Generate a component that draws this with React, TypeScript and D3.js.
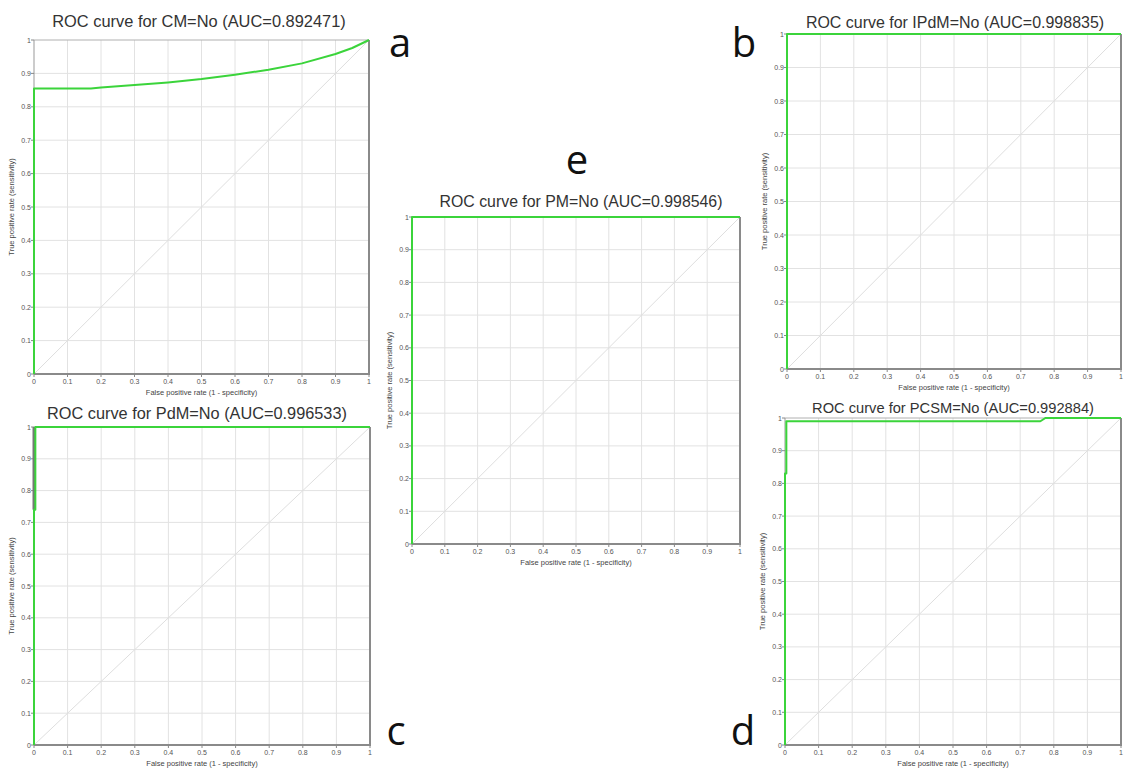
import * as d3 from "d3";
import React, { useEffect, useRef } from "react";

// ROC curve points [fpr, tpr]
const curveCM: [number, number][] = [
  [0, 0], [0, 0.855], [0.17, 0.855], [0.2, 0.858], [0.3, 0.865], [0.4, 0.873],
  [0.5, 0.883], [0.6, 0.896], [0.7, 0.911], [0.8, 0.93], [0.9, 0.958], [0.95, 0.976], [1, 1],
];
const curveIPdM: [number, number][] = [[0, 0], [0, 1], [1, 1]];
const curvePdM: [number, number][] = [[0, 0], [0, 0.74], [0.004, 0.74], [0.004, 1], [1, 1]];
const shadePdM: [number, number][] = [[0, 0.74], [0, 1]];
const curvePCSM: [number, number][] = [
  [0, 0], [0, 0.83], [0.004, 0.83], [0.004, 0.99], [0.76, 0.99], [0.775, 1], [1, 1],
];
const curvePM: [number, number][] = [[0, 0], [0, 1], [1, 1]];

const titles = [
  "ROC curve for CM=No (AUC=0.892471)",
  "ROC curve for IPdM=No (AUC=0.998835)",
  "ROC curve for PdM=No (AUC=0.996533)",
  "ROC curve for PCSM=No (AUC=0.992884)",
  "ROC curve for PM=No (AUC=0.998546)",
];
const letters = ["a", "b", "c", "d", "e"];
const tickValues = [0, 0.1, 0.2, 0.3, 0.4, 0.5, 0.6, 0.7, 0.8, 0.9, 1];
const xLabel = "False positive rate (1 - specificity)";
const yLabel = "True positive rate (sensitivity)";

// plot boxes: left, top, right, bottom; title centre x, baseline y, width; letter position
const panels = [
  { box: [34, 40, 369, 374], title: [199, 27, 302], curve: curveCM, letter: [400, 57] },
  { box: [787, 34, 1121, 369], title: [955, 28, 294], curve: curveIPdM, letter: [744, 57] },
  { box: [34, 427, 370, 745], title: [197, 419, 300], curve: curvePdM, letter: [396, 745], shade: shadePdM },
  { box: [785, 418, 1121, 745], title: [953, 413, 270], curve: curvePCSM, letter: [743, 745] },
  { box: [412, 217, 740, 544], title: [581, 207, 292], curve: curvePM, letter: [577, 174] },
];

const fmt = (d: number) => (d === 0 || d === 1 ? String(d) : d.toFixed(1));

export default function App() {
  const svgRef = useRef<SVGSVGElement>(null);
  const width = 1129;
  const height = 770;

  useEffect(() => {
    const svg = d3.select(svgRef.current);
    svg.selectAll("*").remove();

    svg.append("rect").attr("width", width).attr("height", height).attr("fill", "white");

    panels.forEach((p, i) => {
      const [l, t, r, b] = p.box;
      const x = d3.scaleLinear().domain([0, 1]).range([l, r]);
      const y = d3.scaleLinear().domain([0, 1]).range([b, t]);
      const g = svg.append("g");

      // grid
      g.selectAll(".gx")
        .data(tickValues.slice(1, -1))
        .enter()
        .append("line")
        .attr("x1", (d) => x(d)).attr("x2", (d) => x(d))
        .attr("y1", t).attr("y2", b)
        .attr("stroke", "#e2e2e2").attr("stroke-width", 1);
      g.selectAll(".gy")
        .data(tickValues.slice(1, -1))
        .enter()
        .append("line")
        .attr("y1", (d) => y(d)).attr("y2", (d) => y(d))
        .attr("x1", l).attr("x2", r)
        .attr("stroke", "#e2e2e2").attr("stroke-width", 1);

      // diagonal
      g.append("line")
        .attr("x1", x(0)).attr("y1", y(0)).attr("x2", x(1)).attr("y2", y(1))
        .attr("stroke", "#dedede").attr("stroke-width", 1);

      // frame
      g.append("line").attr("x1", l).attr("x2", r).attr("y1", t).attr("y2", t)
        .attr("stroke", "#b0b0b0").attr("stroke-width", 1);
      g.append("line").attr("x1", l).attr("x2", l).attr("y1", t).attr("y2", b)
        .attr("stroke", "#999").attr("stroke-width", 1);
      g.append("line").attr("x1", r).attr("x2", r).attr("y1", t).attr("y2", b + 1)
        .attr("stroke", "#8a8a8a").attr("stroke-width", 2);
      g.append("line").attr("x1", l).attr("x2", r + 1).attr("y1", b).attr("y2", b)
        .attr("stroke", "#8a8a8a").attr("stroke-width", 2);

      // ticks and labels
      const xAxis = g.append("g").attr("transform", `translate(0,${b})`);
      xAxis.selectAll("line").data(tickValues).enter().append("line")
        .attr("x1", (d) => x(d)).attr("x2", (d) => x(d)).attr("y1", 0).attr("y2", 3)
        .attr("stroke", "#888");
      xAxis.selectAll("text").data(tickValues).enter().append("text")
        .attr("x", (d) => x(d)).attr("y", 10)
        .attr("text-anchor", "middle")
        .attr("font-size", 7).attr("fill", "#555")
        .attr("font-family", "Liberation Sans, Arial, sans-serif")
        .text(fmt);

      const yAxis = g.append("g").attr("transform", `translate(${l},0)`);
      yAxis.selectAll("line").data(tickValues).enter().append("line")
        .attr("y1", (d) => y(d)).attr("y2", (d) => y(d)).attr("x1", -3).attr("x2", 0)
        .attr("stroke", "#888");
      yAxis.selectAll("text").data(tickValues).enter().append("text")
        .attr("x", -3).attr("y", (d) => y(d) + 2.5)
        .attr("text-anchor", "end")
        .attr("font-size", 7).attr("fill", "#555")
        .attr("font-family", "Liberation Sans, Arial, sans-serif")
        .text(fmt);

      g.append("text")
        .attr("x", (l + r) / 2).attr("y", b + 21)
        .attr("text-anchor", "middle")
        .attr("font-size", 7.5).attr("fill", "#444")
        .attr("font-family", "Liberation Sans, Arial, sans-serif")
        .text(xLabel);
      g.append("text")
        .attr("transform", `translate(${l - 20},${(t + b) / 2}) rotate(-90)`)
        .attr("text-anchor", "middle")
        .attr("font-size", 7.5).attr("fill", "#444")
        .attr("font-family", "Liberation Sans, Arial, sans-serif")
        .text(yLabel);

      // title, font scaled to the width it takes in the reference
      const [tx, ty, tw] = p.title;
      g.append("text")
        .attr("x", tx).attr("y", ty)
        .attr("text-anchor", "middle")
        .attr("font-size", tw / 18.4).attr("fill", "#333")
        .attr("font-family", "Liberation Sans, Arial, sans-serif")
        .text(titles[i]);

      const line = d3.line<[number, number]>().x((d) => x(d[0])).y((d) => y(d[1]));

      if (p.shade) {
        g.append("path").attr("d", line(p.shade))
          .attr("fill", "none").attr("stroke", "#777").attr("stroke-width", 3);
      }
      g.append("path").attr("d", line(p.curve))
        .attr("fill", "none").attr("stroke", "#3bd43b").attr("stroke-width", 2)
        .attr("stroke-linejoin", "round");

      // panel letter
      svg.append("text")
        .attr("x", p.letter[0]).attr("y", p.letter[1])
        .attr("text-anchor", "middle")
        .attr("font-size", 40).attr("fill", "#111")
        .attr("font-family", "Open Sans, Noto Sans, sans-serif")
        .text(letters[i]);
    });
  }, []);

  return (
    <svg
      ref={svgRef}
      width={width}
      height={height}
      style={{ position: "absolute", left: 0, top: 0 }}
    />
  );
}
